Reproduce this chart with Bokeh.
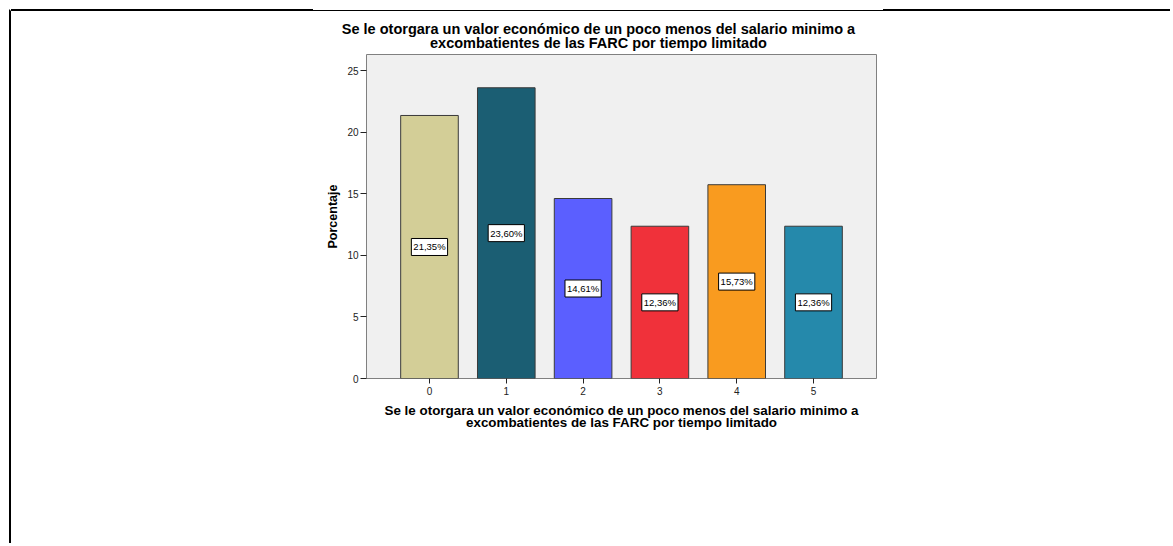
from bokeh.plotting import figure
from bokeh.models import ColumnDataSource, FactorRange, Range1d, FixedTicker, Label
from bokeh.core.properties import value
from bokeh.embed import file_html
from bokeh.resources import INLINE

# ---- data ----
categories = ["0", "1", "2", "3", "4", "5"]
percentages = [21.35, 23.60, 14.61, 12.36, 15.73, 12.36]
bar_labels = ["21,35%", "23,60%", "14,61%", "12,36%", "15,73%", "12,36%"]
bar_colors = ["#D3CE97", "#1B5E73", "#5B5FFF", "#F0313A", "#F99B1F", "#2589AB"]
y_ticks = [0, 5, 10, 15, 20, 25]
chart_title = ("Se le otorgara un valor económico de un poco menos del salario minimo a\n"
               "excombatientes de las FARC por tiempo limitado")
x_title = chart_title
y_title = "Porcentaje"

FONT = "Liberation Sans"

src = ColumnDataSource(dict(
    cat=categories,
    pct=percentages,
    mid=[v / 2 for v in percentages],
    lab=bar_labels,
    color=bar_colors,
))

p = figure(
    x_range=FactorRange(factors=categories, range_padding=0.32, range_padding_units="absolute"),
    y_range=Range1d(0, 26.3),
    width=1161, height=534, title=None,
    output_backend="svg", toolbar_location=None,
    min_border_left=355, min_border_right=296,
    min_border_top=43, min_border_bottom=167,
)
p.margin = (9, 0, 0, 9)
p.styles = {
    "border-left": "2px solid black",
    "border-top": "2px solid transparent",
    "background-image": ("linear-gradient(to right, black 304px, white 304px, white 874px, black 874px), "
                         "linear-gradient(black, black)"),
    "background-size": "100% 1px, 100% 1px",
    "background-position": "0 0, 0 1px",
    "background-repeat": "no-repeat",
    "background-origin": "border-box",
}

p.background_fill_color = "#F0F0F0"
p.border_fill_color = "white"
p.outline_line_color = "#808080"
p.outline_line_width = 1
p.grid.visible = False

p.vbar(x="cat", top="pct", width=0.75, source=src,
       fill_color="color", line_color="#3A3A3A", line_width=1)

p.text(x="cat", y="mid", text="lab", source=src,
       text_align="center", text_baseline="middle",
       text_font=value(FONT), text_font_size="9.5px", text_color="black",
       background_fill_color="white", border_line_color="black",
       border_line_width=1, padding=(2, 3))

# axes
for ax in (p.xaxis[0], p.yaxis[0]):
    ax.axis_line_color = None
    ax.major_tick_line_color = "#222222"
    ax.minor_tick_line_color = None
    ax.major_tick_in = 0
    ax.major_label_text_font = FONT
    ax.major_label_text_font_size = "10px"
    ax.major_label_text_color = "#222222"
    ax.axis_label_text_font = FONT
    ax.axis_label_text_font_style = "bold"
    ax.axis_label_text_color = "black"

p.xaxis.major_tick_out = 5
p.xaxis.major_label_standoff = 3
p.xaxis.axis_label = x_title
p.xaxis.axis_label_text_font_size = "13.4px"
p.xaxis.axis_label_text_line_height = 0.82
p.xaxis.axis_label_standoff = 5

p.yaxis.ticker = FixedTicker(ticks=y_ticks)
p.yaxis.major_tick_out = 6
p.yaxis.major_label_standoff = 2
p.yaxis.axis_label = y_title
p.yaxis.axis_label_text_font_size = "12.5px"
p.yaxis.axis_label_standoff = 4

# chart title, centred over the whole chart image (not the frame)
title = Label(x=2.70, y=27.78, text=chart_title,
              text_align="center", text_baseline="middle",
              text_font=FONT, text_font_style="bold", text_font_size="14.5px",
              text_line_height=0.9, text_color="black")
p.add_layout(title, "above")

open("out.html", "w").write(file_html(p, INLINE))
